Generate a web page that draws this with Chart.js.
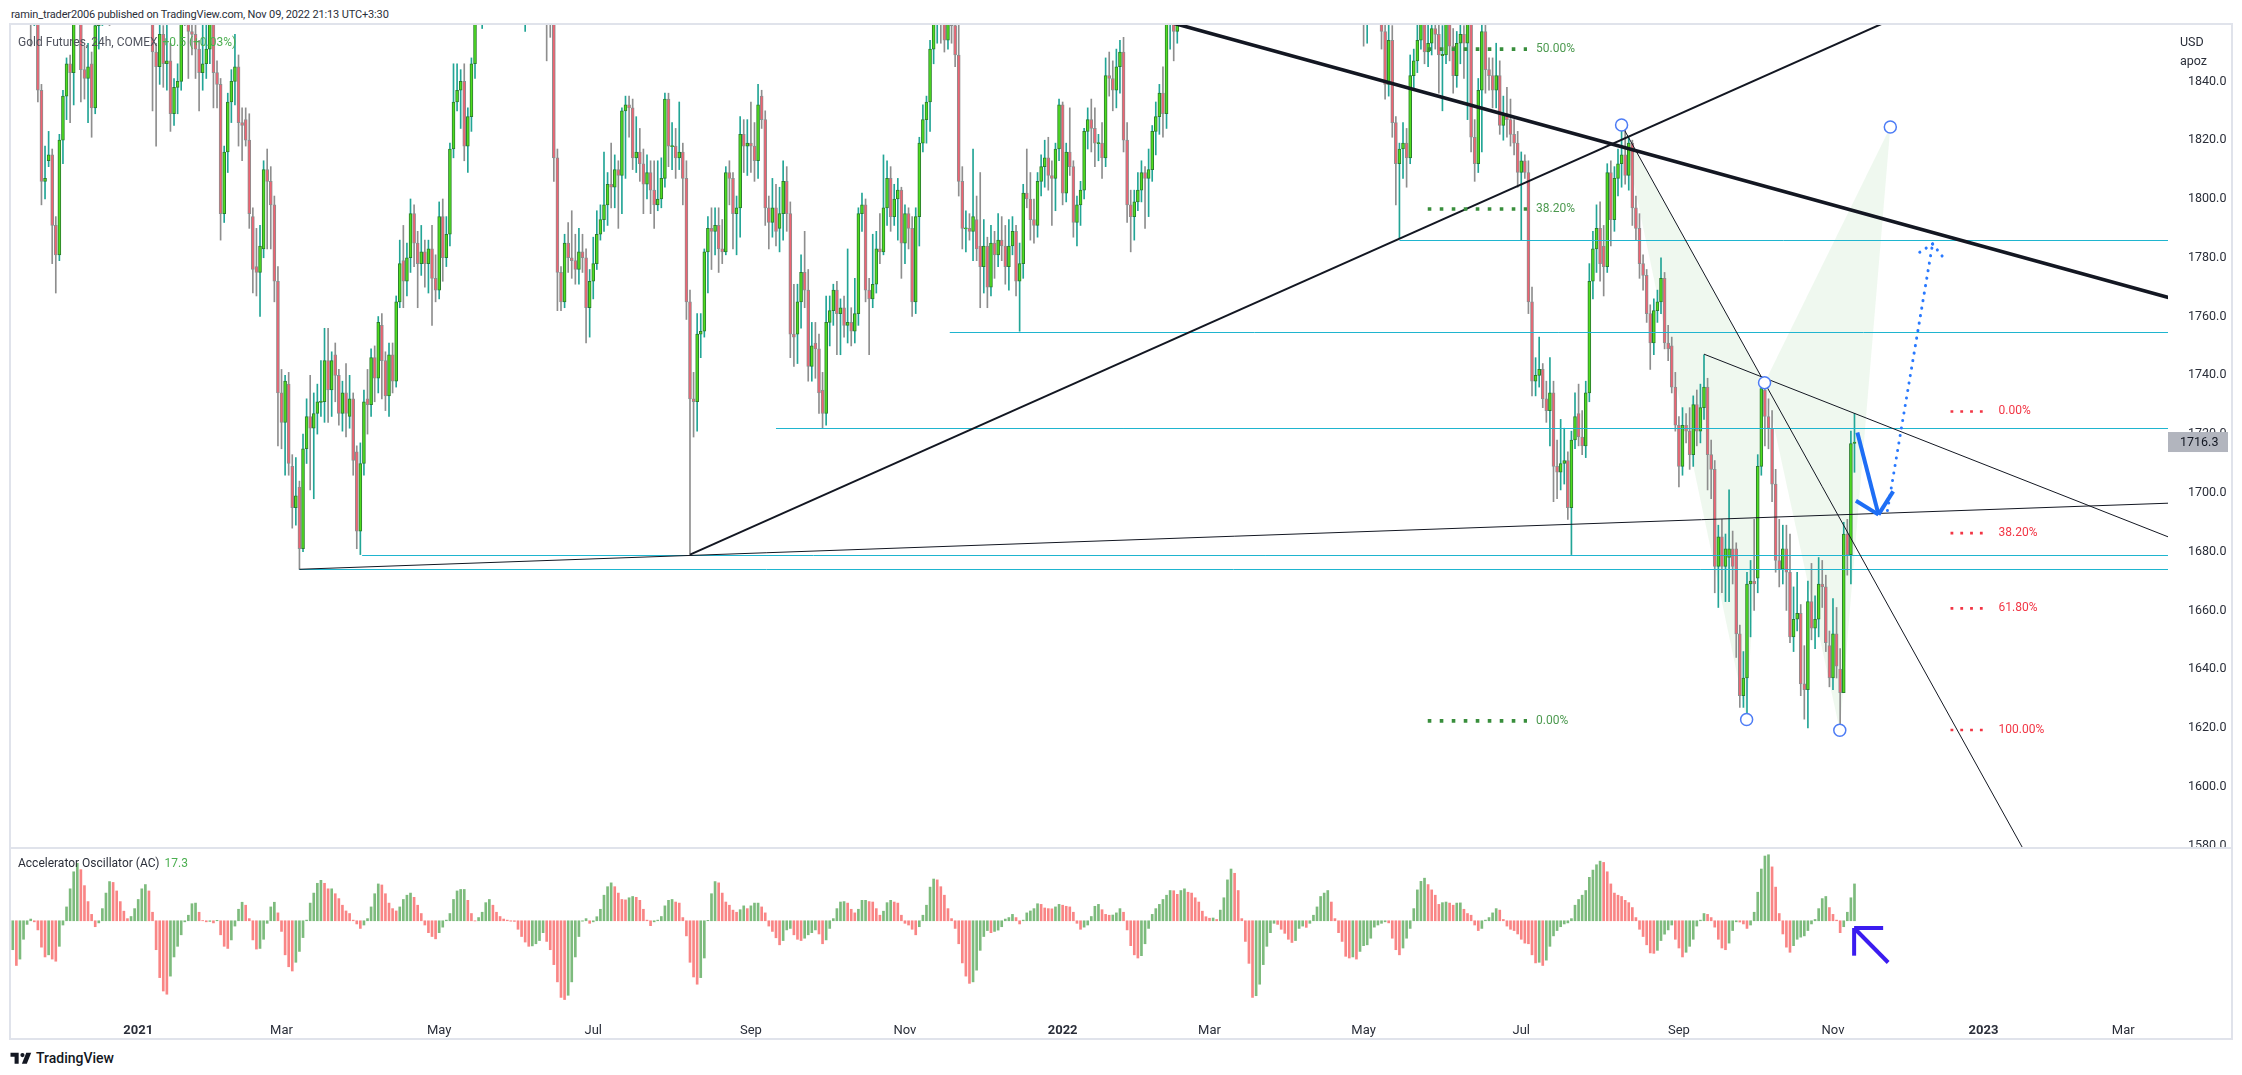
<!DOCTYPE html>
<html>
<head>
<meta charset="utf-8">
<title>Gold Futures, 24h, COMEX</title>
<script src="https://cdn.jsdelivr.net/npm/chart.js@4.4.1/dist/chart.umd.min.js"></script>
<style>
  html, body { margin: 0; padding: 0; background: #fff; }
  body { position: relative; width: 2242px; height: 1075px; overflow: hidden; font-family: Roboto, "Noto Sans", sans-serif; color: #131722; }
  .abs { position: absolute; white-space: nowrap; }
  #frame { left: 9px; top: 23px; width: 2224px; height: 1017px; border: 2px solid #e0e3eb; box-sizing: border-box; }
  #sep { left: 11px; top: 847px; width: 2220px; height: 2px; background: #e0e3eb; }
  #priceWrap { left: 11px; top: 25px; }
  #acWrap { left: 11px; top: 849px; }
  #title { left: 11px; top: 6px; font-size: 11px; letter-spacing: -0.15px; line-height: 18px; color: #2a2e39; }
  #legend { left: 18px; top: 34px; font-size: 12px; line-height: 17px; color: #50535e; }
  #legend span, #acLegend span { color: #4caf50; margin-left: 5px; }
  #acLegend { left: 18px; top: 855px; font-size: 12px; line-height: 17px; color: #2a2e39; }
  #unit { left: 2180px; top: 33px; font-size: 12.5px; line-height: 18.5px; color: #2a2e39; }
  #logo { left: 10px; top: 1049px; font-size: 14px; font-weight: 500; line-height: 18px; color: #131722; display: flex; align-items: center; }
  #logo svg { margin-right: 4px; }
</style>
</head>
<body>
<div class="abs" id="title">ramin_trader2006 published on TradingView.com, Nov 09, 2022 21:13 UTC+3:30</div>
<div class="abs" id="frame"></div>
<div class="abs" id="sep"></div>
<div class="abs" id="priceWrap"><canvas id="price" width="2220" height="822" style="width:2220px;height:822px"></canvas></div>
<div class="abs" id="acWrap"><canvas id="ac" width="2220" height="189" style="width:2220px;height:189px"></canvas></div>
<div class="abs" id="legend">Gold Futures, 24h, COMEX<span>+0.5 (+0.03%)</span></div>
<div class="abs" id="acLegend">Accelerator Oscillator (AC)<span>17.3</span></div>
<div class="abs" id="unit">USD<br>apoz</div>
<div class="abs" id="logo"><svg width="22" height="14" viewBox="0 0 36 24"><path d="M14 22H7V10H0V3h14z" fill="#131722"/><circle cx="20.5" cy="7" r="3.6" fill="#131722"/><path d="M27 3h8.5L28 22h-8.5z" fill="#131722"/></svg>TradingView</div>
<script>
// trading calendar: every weekday from the first bar, minus full COMEX closures
const firstDay = '2020-11-12';
const closedDays = ['2020-12-25', '2021-01-01', '2021-04-02', '2021-12-24', '2022-04-15',
  '2022-11-24', '2022-12-26', '2023-01-02', '2023-01-16', '2023-02-20'];
const barCount = 602;
const monthNames = ['Jan', 'Feb', 'Mar', 'Apr', 'May', 'Jun', 'Jul', 'Aug', 'Sep', 'Oct', 'Nov', 'Dec'];
const priceTicks = [1580, 1600, 1620, 1640, 1660, 1680, 1700, 1720, 1740, 1760, 1780, 1800, 1820, 1840];

// daily OHLC, one line per month, 2020-11-12 .. 2022-11-09
const open = [
  1866,1874,1887,1888,1882,1873,1865,1873,1836,1805,1812,1814,1790,
  1780,1819,1834,1845,1842,1866,1874,1843,1840,1845,1830,1858,1860,1888,1888,1878,1870,1874,1883,1880,1882,1893,
  1895,1943,1954,1918,1913,1849,1844,1855,1845,1846,1828,1837,1839,1871,1865,1856,1855,1850,1842,1845,
  1850,1863,1842,1838,1794,1815,1832,1839,1844,1825,1826,1819,1793,1776,1774,1782,1809,1805,1797,1771,
  1733,1723,1736,1708,1694,1701,1680,1714,1725,1721,1726,1730,1730,1744,1734,1746,1739,1726,1733,1725,1731,1713,1686,
  1709,1731,1729,1745,1738,1756,1744,1732,1746,1737,1764,1778,1771,1779,1794,1784,1777,1781,1777,1782,1772,
  1768,1793,1779,1787,1816,1832,1836,1839,1817,1827,1845,1867,1869,1870,1876,1881,1881,1898,1896,1895,1902,
  1906,1904,1909,1873,1891,1899,1893,1895,1896,1879,1866,1862,1813,1774,1764,1784,1779,1778,1775,1781,1779,1762,
  1771,1777,1787,1792,1797,1804,1803,1809,1807,1829,1831,1830,1813,1815,1811,1804,1808,1802,1797,1799,1806,1833,
  1817,1817,1813,1815,1806,1764,1731,1730,1753,1754,1781,1789,1788,1790,1782,1781,1808,1806,1794,1796,1821,1817,
  1818,1817,1812,1834,1826,1796,1791,1796,1789,1794,1805,1794,1753,1753,1764,1774,1768,1742,1750,1748,1734,1726,
  1757,1761,1768,1760,1762,1756,1757,1754,1760,1794,1797,1768,1765,1770,1782,1781,1796,1806,1793,1799,1802,
  1784,1794,1789,1764,1793,1818,1826,1832,1850,1860,1865,1863,1853,1866,1858,1848,1805,1789,1789,1788,1792,1783,
  1776,1783,1769,1784,1780,1785,1783,1776,1783,1788,1771,1777,1801,1799,1792,1790,1805,1810,1813,1807,1806,1816,
  1831,1801,1815,1810,1791,1797,1802,1822,1826,1823,1818,1818,1813,1841,1840,1836,1844,1849,1819,1797,1793,
  1798,1802,1808,1806,1809,1822,1827,1835,1828,1860,1870,1856,1871,1899,1898,1906,1908,1910,1926,1889,
  1908,1944,1922,1936,1966,1995,2043,1988,1997,1985,1960,1929,1909,1943,1921,1936,1921,1944,1958,1954,1923,1916,1934,
  1949,1924,1933,1923,1925,1931,1946,1953,1975,1978,1974,1985,1949,1956,1944,1934,1897,1904,1886,1892,
  1912,1863,1870,1881,1877,1883,1856,1838,1853,1825,1811,1816,1818,1813,1841,1846,1853,1866,1849,1852,1857,1855,
  1848,1848,1870,1851,1841,1852,1855,1852,1871,1820,1811,1836,1856,1843,1841,1836,1841,1824,1828,1826,1821,1818,
  1808,1812,1808,1764,1737,1739,1741,1731,1727,1733,1708,1706,1709,1710,1694,1717,1726,1718,1715,1733,1771,
  1782,1789,1783,1776,1808,1792,1806,1811,1814,1807,1818,1796,1789,1777,1773,1760,1750,1761,1764,1772,1750,1749,1735,
  1722,1708,1722,1720,1712,1729,1720,1728,1735,1712,1707,1674,1684,1674,1677,1680,1680,1651,1630,1636,1668,1669,
  1670,1708,1734,1725,1721,1702,1676,1673,1680,1672,1650,1656,1658,1634,1632,1662,1653,1656,1668,1667,1647,
  1636,1651,1639,1631,1685,1678,1715.8
];
const high = [
  1885,1893,1906,1895,1893,1875,1883,1875,1838,1817,1822,1816,1793,
  1821,1836,1847,1848,1875,1880,1880,1851,1852,1849,1862,1870,1895,1892,1907,1885,1880,1887,1895,1888,1897,1903,
  1947,1959,1962,1927,1917,1852,1864,1858,1860,1852,1840,1845,1875,1875,1868,1863,1860,1853,1866,1867,
  1876,1864,1846,1840,1817,1835,1843,1855,1848,1830,1830,1828,1796,1789,1790,1812,1816,1810,1800,1776,
  1741,1739,1740,1712,1711,1703,1719,1731,1739,1733,1736,1744,1755,1755,1747,1750,1741,1737,1743,1739,1733,1715,1716,
  1734,1741,1748,1749,1759,1760,1747,1750,1750,1766,1785,1790,1784,1799,1797,1788,1790,1785,1785,1790,1780,
  1798,1799,1793,1818,1845,1845,1843,1845,1830,1847,1869,1876,1892,1883,1889,1886,1900,1913,1900,1915,1910,
  1919,1912,1910,1894,1904,1904,1901,1904,1902,1883,1870,1868,1816,1776,1787,1791,1795,1787,1789,1787,1782,1775,
  1786,1795,1797,1815,1808,1818,1814,1812,1830,1834,1834,1833,1827,1823,1816,1814,1812,1812,1812,1813,1835,1835,
  1825,1823,1832,1818,1812,1768,1740,1760,1760,1782,1793,1796,1796,1796,1792,1810,1812,1808,1800,1827,1826,1826,
  1832,1825,1838,1836,1829,1800,1806,1804,1803,1812,1810,1798,1770,1770,1780,1788,1775,1757,1757,1753,1740,1766,
  1766,1770,1771,1765,1766,1782,1762,1772,1796,1801,1799,1772,1787,1788,1794,1814,1812,1810,1804,1806,1803,
  1797,1796,1793,1796,1820,1831,1834,1853,1866,1870,1870,1877,1870,1872,1865,1860,1810,1795,1794,1816,1800,1808,
  1792,1786,1790,1788,1794,1793,1790,1792,1793,1790,1784,1804,1816,1808,1799,1808,1814,1819,1820,1812,1818,1833,
  1832,1818,1830,1812,1800,1805,1823,1830,1833,1830,1821,1825,1847,1849,1846,1850,1853,1854,1825,1802,1802,
  1808,1812,1810,1816,1824,1832,1838,1844,1865,1875,1872,1875,1902,1906,1914,1915,1914,1976,1929,1918,
  1950,1946,1942,1974,2007,2079,2058,2010,2008,1990,1962,1937,1946,1945,1940,1944,1948,1966,1966,1958,1927,1940,1950,
  1953,1938,1946,1935,1937,1949,1958,1980,1985,1987,2003,1990,1962,1963,1956,1936,1912,1915,1899,1923,
  1912,1877,1885,1910,1893,1886,1860,1859,1858,1827,1818,1825,1823,1848,1850,1859,1870,1869,1860,1862,1860,1862,
  1858,1874,1874,1857,1856,1860,1858,1877,1878,1826,1840,1862,1859,1847,1847,1852,1846,1834,1837,1833,1826,1822,
  1815,1814,1812,1769,1745,1752,1743,1737,1745,1737,1717,1724,1721,1713,1720,1733,1736,1727,1737,1777,1788,
  1797,1798,1790,1811,1812,1810,1816,1824,1825,1820,1819,1800,1794,1780,1775,1763,1765,1768,1779,1774,1756,1752,1740,
  1725,1728,1726,1728,1732,1734,1736,1746,1738,1717,1710,1688,1690,1685,1700,1686,1682,1654,1645,1672,1676,1690,
  1712,1736.5,1735,1731,1727,1707,1690,1688,1688,1685,1667,1672,1661,1647,1669,1675,1664,1677,1676,1671,1652,
  1663,1660,1646,1689,1690,1720,1726
];
const low = [
  1862,1870,1862,1872,1866,1851,1858,1832,1797,1799,1810,1777,1767,
  1778,1811,1826,1825,1831,1860,1832,1833,1825,1820,1828,1850,1858,1876,1858,1859,1864,1872,1871,1873,1876,1886,
  1891,1935,1901,1905,1829,1817,1838,1837,1836,1822,1824,1828,1836,1858,1840,1848,1840,1829,1836,1840,
  1845,1830,1830,1785,1791,1808,1825,1831,1817,1812,1817,1789,1767,1766,1759,1779,1782,1782,1764,1715,
  1714,1705,1705,1687,1688,1673,1679,1709,1700,1697,1719,1725,1723,1723,1725,1730,1722,1720,1718,1721,1705,1680,1678,
  1705,1719,1725,1730,1733,1731,1727,1725,1733,1735,1762,1762,1766,1774,1776,1762,1773,1769,1767,1756,1764,
  1765,1771,1776,1783,1813,1829,1823,1812,1808,1822,1840,1860,1857,1866,1868,1872,1876,1893,1883,1890,1898,
  1898,1897,1867,1856,1888,1884,1885,1872,1870,1846,1854,1805,1761,1761,1762,1774,1772,1770,1770,1774,1750,1752,
  1765,1775,1785,1788,1790,1796,1796,1789,1794,1806,1820,1809,1808,1805,1794,1799,1794,1789,1795,1796,1803,1810,
  1809,1806,1809,1797,1758,1678,1718,1720,1745,1752,1767,1775,1780,1774,1777,1780,1797,1782,1780,1786,1808,1807,
  1808,1805,1806,1823,1790,1782,1786,1783,1781,1785,1788,1745,1742,1743,1755,1762,1737,1737,1738,1726,1721,1722,
  1749,1756,1746,1746,1752,1750,1749,1750,1756,1788,1764,1746,1762,1767,1777,1780,1790,1788,1790,1785,1772,
  1777,1782,1759,1760,1783,1815,1818,1822,1845,1852,1852,1849,1850,1852,1844,1800,1782,1781,1785,1778,1778,1762,
  1767,1762,1766,1772,1776,1778,1770,1768,1780,1766,1754,1772,1796,1785,1784,1786,1800,1803,1802,1790,1795,1812,
  1797,1798,1807,1786,1783,1790,1799,1816,1815,1810,1812,1806,1810,1834,1829,1830,1835,1815,1791,1781,1785,
  1795,1798,1789,1793,1805,1814,1821,1820,1823,1850,1846,1852,1866,1887,1894,1894,1895,1880,1878,1885,
  1906,1912,1917,1934,1960,1990,1978,1976,1962,1950,1907,1895,1904,1916,1910,1915,1918,1936,1943,1915,1889,1910,1928,
  1918,1916,1918,1915,1917,1926,1940,1947,1963,1960,1972,1943,1939,1935,1930,1891,1892,1882,1872,1888,
  1851,1852,1860,1870,1866,1850,1833,1834,1820,1797,1785.5,1806,1803,1811,1836,1842,1850,1845,1844,1848,1850,1835,
  1829,1845,1846,1835,1837,1845,1840,1826,1815,1805,1808,1815,1835,1836,1830,1830,1821,1819,1820,1817,1814,1803,
  1785,1806,1760,1732,1732,1735,1728,1723,1715,1696,1697,1700,1702,1690,1678,1714,1715,1712,1711,1730,1765,
  1774,1771,1766,1774,1783,1788,1800,1803,1804,1802,1790,1785,1772,1768,1757,1741,1746,1757,1760,1748,1744,1733,1720,
  1701,1705,1716,1707,1708,1715,1716,1724,1700,1697,1665,1660,1665,1662,1662,1668,1643,1626,1626,1622,1650,1659,
  1665,1705,1715,1714,1696,1672,1667,1668,1659,1648,1645,1652,1630,1622,1619,1649,1646,1650,1660,1645,1633,
  1632,1636,1618.3,1631,1671,1668,1706
];
const close = [
  1874,1887,1888,1882,1873,1865,1873,1836,1805,1806,1814,1790,1780,
  1819,1834,1845,1842,1866,1874,1843,1840,1844,1830,1858,1860,1888,1888,1878,1870,1874,1883,1880,1882,1893,1895,
  1943,1954,1918,1913,1849,1844,1855,1845,1846,1828,1837,1839,1871,1865,1856,1855,1850,1842,1845,1850,
  1863,1842,1838,1794,1815,1832,1839,1844,1825,1824,1819,1794,1775,1774,1783,1809,1805,1797,1771,1733,
  1723,1737,1709,1694,1698,1680,1714,1725,1721,1726,1730,1730,1744,1734,1744,1739,1726,1733,1726,1731,1710,1686,1709,
  1730,1729,1745,1738,1757,1744,1732,1746,1737,1764,1777,1771,1779,1794,1784,1777,1781,1777,1782,1772,1768,
  1793,1779,1787,1816,1832,1836,1839,1817,1827,1845,1867,1869,1870,1876,1881,1881,1898,1896,1895,1902,1906,
  1904,1909,1873,1891,1899,1893,1895,1896,1879,1866,1862,1813,1774,1764,1784,1779,1778,1775,1781,1779,1762,1771,
  1777,1787,1792,1797,1804,1803,1809,1807,1829,1831,1830,1813,1815,1811,1804,1808,1802,1797,1799,1806,1833,1817,
  1817,1813,1815,1806,1764,1731,1730,1753,1754,1781,1789,1788,1790,1782,1781,1808,1806,1794,1796,1821,1817,1818,
  1817,1812,1831,1826,1796,1791,1796,1788,1794,1805,1794,1753,1752,1764,1774,1768,1742,1749,1748,1733,1726,1757,
  1761,1768,1760,1762,1756,1757,1754,1760,1794,1797,1768,1765,1770,1782,1781,1796,1806,1793,1799,1802,1784,
  1794,1789,1764,1793,1818,1826,1832,1850,1860,1865,1863,1853,1866,1858,1848,1805,1789,1789,1788,1793,1782,1776,
  1783,1769,1784,1780,1785,1783,1776,1783,1788,1771,1777,1801,1799,1792,1790,1805,1810,1813,1807,1806,1816,1831,
  1801,1815,1810,1791,1797,1802,1822,1826,1823,1818,1818,1813,1841,1840,1836,1844,1849,1819,1797,1793,1798,
  1802,1808,1806,1809,1822,1827,1835,1828,1860,1870,1856,1871,1899,1898,1906,1908,1910,1926,1889,1908,
  1944,1922,1936,1966,1995,2043,1988,1997,1985,1960,1929,1909,1943,1921,1936,1921,1944,1958,1954,1923,1916,1934,1949,
  1924,1933,1923,1925,1931,1946,1953,1975,1978,1974,1985,1949,1956,1944,1934,1897,1904,1886,1892,1912,
  1863,1870,1881,1877,1883,1856,1838,1853,1825,1811,1816,1818,1813,1841,1846,1853,1866,1849,1852,1857,1855,1848,
  1848,1870,1851,1841,1852,1855,1852,1871,1820,1811,1836,1856,1843,1841,1836,1841,1824,1828,1826,1821,1818,1808,
  1812,1808,1764,1737,1739,1741,1731,1727,1733,1708,1706,1709,1710,1694,1717,1725,1718,1715,1733,1771,1782,
  1789,1777,1776,1808,1792,1806,1811,1814,1807,1818,1796,1789,1777,1773,1760,1750,1761,1764,1772,1750,1748,1735,1722,
  1708,1722,1720,1712,1729,1720,1728,1735,1712,1707,1674,1684,1674,1680,1680,1674,1651,1630,1636,1668,1669,1668,
  1708,1734.5,1725,1721,1702,1676,1673,1680,1672,1650,1656,1658,1634,1632,1662,1653,1656,1668,1667,1648,1636,
  1651,1640,1631,1685,1678,1715.8,1716.3
];

const ac = [
  -13.6,-21,-18,-8.7,-1.7,0.8,-0.5,-4.3,-12.4,-17,-16,-18,-19,-12,-2,6.5,15,
  23,27,24,16.5,9,3,-2.8,-1,5.7,13,18.4,18,14,9,4.5,1,2,5.7,10,15,
  17,14,4,-13.6,-26.7,-33,-34.5,-26,-17,-12,-6.6,-0.5,2.6,8,8.3,4,0.1,-0.5,-0.3,-1,
  0.2,-6.6,-12,-13,-9,-2.5,5.4,8.7,7.3,1,-9,-13.3,-13,-8.7,-1.2,6.5,8.7,3.7,-5,-16,
  -21.6,-23.6,-19.5,-14.4,-7.9,0.3,8.3,13,17.6,19,17.6,15,15,12.7,10.4,7.3,4.6,3.4,0.3,-1.5,
  -3.6,-2,1,6.5,12.7,17.3,16.8,12.7,8.3,5.7,4.6,6.5,10,12,13,11,7.3,3.4,-2,-5.6,
  -7.4,-8.5,-5.6,-3,0.3,3.4,10,14,14.7,14.7,9.6,3.4,-0.1,1.5,4,8.5,10,7.3,4,2,
  0.8,0.3,-0.2,-0.3,-4,-7.4,-10,-12,-11.8,-10.8,-9.3,-5.6,-9.7,-13.6,-20.6,-28.7,-36,-37,-35,-28.7,
  -17,-7.4,-0.2,1,-1.2,-0.5,1.9,5.4,12,16,17.8,16,13,10,9.8,10.8,11.4,11,9.6,5.4,
  0.3,-2.3,-0.5,0.3,2,7,9.6,10,8.8,8.3,1.5,-7.1,-19.5,-26.4,-29.8,-26.7,-17.5,0.2,12.7,18.4,
  17.8,13,8.8,7.3,5,4,5.2,7,5.7,7,8.3,8.3,6.5,3.7,-2.5,-5,-8,-11.3,-9.3,-4.3,
  -3.6,-6.6,-8.7,-9.3,-8.2,-6.6,-5.6,-4.3,-6.2,-10.8,-9,-3.6,1,5.7,8.8,9,8.3,5.4,3.7,5.4,
  9.6,9.6,9,8.8,5.7,2.6,4.5,8.5,9.6,8.8,8.3,2.6,-1.2,-2,-4,-6.6,-2.8,2.6,7.3,15.8,
  19.6,19.2,16,12,5.7,1,-3.6,-10.8,-19.8,-26,-29.4,-28.7,-23.2,-13.9,-7.4,-4.6,-5.6,-5,-4.4,-2.8,
  0.8,1.5,3,1.5,-1.5,0.3,3.7,4.6,5.7,8,7.7,6,5.7,5.6,6.5,7.7,7.3,6.8,6.5,4,
  -1.2,-4,-3,-2,2,6.8,7.7,5.2,3,2.6,2.7,3.7,5.7,4,-4.3,-11.7,-16,-17.5,-16.4,-10.8,
  -3.6,3,5.7,7.7,10,12,14.2,14.1,12.4,14.2,15,13.4,13,10.8,8.8,4.5,1.9,1.2,1.3,0.6,
  5,10.8,19.2,24.3,22.3,14.2,1,-9.7,-20,-36,-35.2,-29.8,-20.6,-12,-5.6,-1.2,-1.7,-4,-5.9,-8.7,
  -10.2,-9.3,-3.6,-2.5,-3.1,-1.2,2.6,6.5,11.4,13,14.2,8.8,1,-5.6,-9.7,-16.7,-17.5,-17,-18,-14.4,
  -11.7,-11.3,-8.2,-3,-2,-1.2,-0.5,-1,-8.2,-13.6,-16,-12.8,-8.2,-3.6,5.7,14.5,18.5,20,17,14.5,
  12,7.7,8.5,8.8,8.3,7.3,8.3,8.4,5.4,3.4,2.6,-2,-4.6,-3.6,
  0.3,1.5,3.7,5.7,5,0.6,-2.5,-4,-4.6,-6.2,-8.7,-10.5,-10.8,-16,-19.8,-19.5,-21,-18.5,-12,-7.1,
  -4.6,-2.8,-1.5,-1,1,7.3,10,12,14.2,20.4,23.8,26.3,28,27.4,23,17.3,13,12,11.4,9.6,
  8.5,6.2,1.5,-4,-7.4,-11.3,-15.1,-15.3,-13.9,-9.3,-6.3,-4.3,-2,-8.7,-12.8,-17,-14.8,-12,-8.7,-2.5,
  0.3,3.4,3,1.5,-3,-8.7,-12.8,-13.6,-10.5,-4.6,-0.5,-0.6,-1.5,-3.6,-2,4,13.4,24.3,30.4,31,
  25.3,15.8,3.4,-6.2,-12.4,-14.8,-11.7,-8.7,-7.7,-7.1,-4.6,-1.5,0.6,5.7,10.4,11.4,6.2,3,0.3,-5.6,
  -2.8,4,10.8,17.3
];

// chart drawings, anchors are [bar index (0 = first bar), price]
const levelLines = [[387, 1785.0], [261.5, 1753.8], [213, 1721.1], [97.5, 1678.0], [80, 1673.0]];
const trendLines = [
  { a: [307, 1864.5], b: [601, 1765.7], w: 3.6, ext: true },
  { a: [189, 1678.0], b: [527, 1861.5], w: 2, ext: true },
  { a: [80, 1673.0], b: [189, 1677.7], w: 1, ext: true },
  { a: [449, 1824.2], b: [488.9, 1736.5], w: 1, ext: true },
  { a: [472, 1746.2], b: [514.3, 1725.9], w: 1, ext: true }
];
const patternPts = [[449, 1824.2], [483.9, 1621.9], [488.9, 1736.5], [509.9, 1618.2], [524, 1823.5]];
const fibGreen = { from: 394.9, to: 422.6, levels: [[1850.0, '50.00%'], [1795.6, '38.20%'], [1621.4, '0.00%']] };
const fibRed = { from: 540.8, to: 551.7, levels: [[1726.7, '0.00%'], [1685.3, '38.20%'], [1659.7, '61.80%'], [1618.3, '100.00%']] };
const solidArrow = { tail: [514.8, 1719.5], tip: [520.7, 1691.6], wings: [[514.4, 1696.3], [524.8, 1699.5]] };
const dottedArrow = { tail: [523.2, 1693], tip: [535.8, 1783.7], wings: [[531.1, 1780], [539.3, 1778.3]] };
const acArrow = { tail: [523.4, -19.6], tip: [513.9, -3.4], wings: [[513.9, -16.4], [522, -3.4]] };

// build categories and tick labels
const dates = [];
for (let d = new Date(firstDay + 'T00:00:00Z'); dates.length < barCount; d.setUTCDate(d.getUTCDate() + 1)) {
  const wd = d.getUTCDay();
  const iso = d.toISOString().slice(0, 10);
  if (wd === 0 || wd === 6 || closedDays.includes(iso)) continue;
  dates.push(iso);
}
const tickLabels = dates.map((iso, i) => {
  if (i === 0) return '';
  const m = +iso.slice(5, 7) - 1;
  if (m === +dates[i - 1].slice(5, 7) - 1 || m % 2 !== 0) return '';
  return m === 0 ? iso.slice(0, 4) : monthNames[m];
});

const n = Math.min(open.length, high.length, low.length, close.length);
const bodies = [], wicks = [], bodyFill = [], bodyEdge = [], wickColor = [];
for (let i = 0; i < n; i++) {
  const up = close[i] >= open[i];
  let lo = Math.min(open[i], close[i]), hi = Math.max(open[i], close[i]);
  if (hi - lo < 0.4) { const m = (hi + lo) / 2; lo = m - 0.2; hi = m + 0.2; }
  bodies.push([lo, hi]);
  wicks.push([low[i], high[i]]);
  bodyFill.push(up ? '#4fdc1e' : '#ef6372');
  bodyEdge.push(up ? '#2b7d2e' : '#8e8e8e');
  wickColor.push(up ? '#22a596' : '#8e8e8e');
}
const acColors = ac.map((v, i) => (i === 0 || v >= ac[i - 1]) ? '#7dbb7d' : '#f98585');

Chart.defaults.font.family = 'Roboto';
Chart.defaults.color = '#2a2e39';

function line(ctx, p, q) { ctx.beginPath(); ctx.moveTo(p[0], p[1]); ctx.lineTo(q[0], q[1]); ctx.stroke(); }

const drawings = {
  id: 'drawings',
  beforeDatasetsDraw(chart) {
    const { ctx, chartArea: a, scales: { x, y } } = chart;
    const P = q => [x.getPixelForValue(q[0]), y.getPixelForValue(q[1])];
    ctx.save();
    ctx.beginPath(); ctx.rect(a.left, a.top, a.width, a.height); ctx.clip();
    ctx.fillStyle = 'rgba(76,175,80,0.09)';
    [[0, 1, 2], [2, 3, 4]].forEach(t => {
      ctx.beginPath();
      t.forEach((k, j) => { const p = P(patternPts[k]); j ? ctx.lineTo(p[0], p[1]) : ctx.moveTo(p[0], p[1]); });
      ctx.closePath(); ctx.fill();
    });
    ctx.restore();
  },
  afterDatasetsDraw(chart) {
    const { ctx, chartArea: a, scales: { x, y } } = chart;
    const P = q => [x.getPixelForValue(q[0]), y.getPixelForValue(q[1])];
    ctx.save();
    ctx.beginPath(); ctx.rect(a.left, a.top, a.width, a.height); ctx.clip();

    ctx.strokeStyle = '#1fb5cf'; ctx.lineWidth = 1;
    levelLines.forEach(([b, p]) => { const yy = Math.round(y.getPixelForValue(p)) + 0.5; line(ctx, [x.getPixelForValue(b), yy], [a.right, yy]); });

    ctx.strokeStyle = '#131722';
    trendLines.forEach(t => {
      const p = P(t.a), q = P(t.b);
      const r = t.ext ? [p[0] + (q[0] - p[0]) * 40, p[1] + (q[1] - p[1]) * 40] : q;
      ctx.lineWidth = t.w; line(ctx, p, r);
    });

    ctx.lineCap = 'butt';
    ctx.font = '12px Roboto'; ctx.textBaseline = 'middle';
    ctx.strokeStyle = '#388e3c'; ctx.fillStyle = 'rgba(56,142,60,0.9)';
    ctx.lineWidth = 3.6; ctx.setLineDash([3.6, 8.4]);
    fibGreen.levels.forEach(([p, txt]) => {
      const yy = y.getPixelForValue(p);
      line(ctx, [x.getPixelForValue(fibGreen.from), yy], [x.getPixelForValue(fibGreen.to), yy]);
      ctx.fillText(txt, x.getPixelForValue(fibGreen.to) + 9, yy);
    });
    ctx.strokeStyle = '#f23645'; ctx.fillStyle = '#f23645';
    ctx.lineWidth = 2.6; ctx.setLineDash([2.8, 7]);
    fibRed.levels.forEach(([p, txt]) => {
      const yy = y.getPixelForValue(p);
      line(ctx, [x.getPixelForValue(fibRed.from), yy], [x.getPixelForValue(fibRed.to), yy]);
      ctx.fillText(txt, x.getPixelForValue(fibRed.to) + 9, yy);
    });

    ctx.strokeStyle = '#2979ff'; ctx.lineWidth = 3; ctx.lineCap = 'round'; ctx.setLineDash([0.1, 7.5]);
    line(ctx, P(dottedArrow.tail), P(dottedArrow.tip));
    dottedArrow.wings.forEach(w => line(ctx, P(dottedArrow.tip), P(w)));
    ctx.setLineDash([]);

    ctx.strokeStyle = '#1e6ef5'; ctx.lineWidth = 4; ctx.lineCap = 'butt';
    line(ctx, P(solidArrow.tail), P(solidArrow.tip));
    solidArrow.wings.forEach(w => line(ctx, P(solidArrow.tip), P(w)));

    ctx.strokeStyle = '#4d7cf5'; ctx.fillStyle = '#fff'; ctx.lineWidth = 1.5;
    patternPts.forEach(q => { const p = P(q); ctx.beginPath(); ctx.arc(p[0], p[1], 6, 0, Math.PI * 2); ctx.fill(); ctx.stroke(); });
    ctx.restore();
  },
  afterDraw(chart) {
    // last-price tag on the price scale
    const { ctx, chartArea: a, scales: { y } } = chart;
    const last = close[n - 1];
    const yy = y.getPixelForValue(last);
    ctx.save();
    ctx.fillStyle = '#b2b5be';
    ctx.fillRect(a.right, yy - 10, 60, 20);
    ctx.fillStyle = '#131722'; ctx.font = '12.5px Roboto'; ctx.textBaseline = 'middle';
    ctx.fillText(last.toFixed(1), a.right + 12, yy + 0.5);
    ctx.restore();
  }
};

new Chart(document.getElementById('price'), {
  type: 'bar',
  data: {
    labels: dates,
    datasets: [
      { data: bodies, backgroundColor: bodyFill, borderColor: bodyEdge, borderWidth: 1, borderSkipped: false, barThickness: 3, grouped: false },
      { data: wicks, backgroundColor: wickColor, barThickness: 1, grouped: false }
    ]
  },
  options: {
    responsive: false, animation: false, events: [],
    layout: { padding: 0 },
    plugins: { legend: { display: false }, tooltip: { enabled: false } },
    scales: {
      x: { display: false, offset: true, grid: { display: false } },
      y: {
        display: true, position: 'right', min: 1578.5, max: 1858.2, bounds: 'data',
        grid: { display: false }, border: { display: false },
        afterBuildTicks: s => { s.ticks = priceTicks.map(v => ({ value: v })); },
        // fixed-width price scale, no extra room above/below for labels
        afterFit: s => { s.width = 63; s.paddingTop = 0; s.paddingBottom = 0; },
        ticks: { autoSkip: false, padding: 12, labelOffset: 3, color: '#2a2e39', font: { size: 12.5 },
          callback: v => Number(v).toFixed(1) }
      }
    }
  },
  plugins: [drawings]
});

const acDrawing = {
  id: 'acArrow',
  afterDatasetsDraw(chart) {
    const { ctx, scales: { x, y } } = chart;
    const P = q => [x.getPixelForValue(q[0]), y.getPixelForValue(q[1])];
    ctx.save();
    ctx.strokeStyle = '#3b1cf0'; ctx.lineWidth = 4; ctx.lineCap = 'butt';
    line(ctx, P(acArrow.tail), P(acArrow.tip));
    acArrow.wings.forEach(w => line(ctx, P(acArrow.tip), P(w)));
    ctx.restore();
  }
};

new Chart(document.getElementById('ac'), {
  type: 'bar',
  data: { labels: dates, datasets: [{ data: ac, backgroundColor: acColors, barThickness: 2, grouped: false }] },
  options: {
    responsive: false, animation: false, events: [],
    layout: { padding: { right: 63 } },
    plugins: { legend: { display: false }, tooltip: { enabled: false } },
    scales: {
      x: {
        offset: true, grid: { display: false }, border: { display: false },
        afterFit: s => { s.height = 31; },
        ticks: {
          autoSkip: false, maxRotation: 0, minRotation: 0, padding: 8,
          font: c => ({ size: 13, weight: /^\d{4}$/.test(c.tick && c.tick.label) ? 'bold' : 'normal' }),
          callback: (v, i) => tickLabels[i] || null
        }
      },
      y: { display: false, min: -40.5, max: 33.7 }
    }
  },
  plugins: [acDrawing]
});
</script>
</body>
</html>
